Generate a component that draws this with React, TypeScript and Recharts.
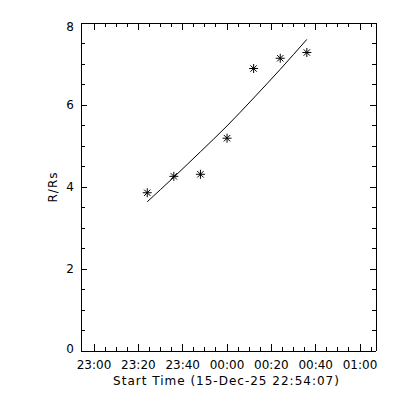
import React from "react";
import {
  ComposedChart,
  Line,
  Scatter,
  XAxis,
  YAxis,
  Label,
} from "recharts";

// observation times (UT) and measured heights
const TIMES = ["23:24", "23:36", "23:48", "00:00", "00:12", "00:24", "00:36"];
const HEIGHTS = [3.86, 4.26, 4.31, 5.19, 6.89, 7.14, 7.28];
// fitted curve, read at the same times
const FIT = [3.64, 4.24, 4.86, 5.49, 6.17, 6.87, 7.6];

const X_TICK_LABELS = ["23:00", "23:20", "23:40", "00:00", "00:20", "00:40", "01:00"];
const Y_TICK_LABELS = ["0", "2", "4", "6", "8"];
const START = "22:54:07";
const END = "01:07:12";
const X_TITLE = "Start Time (15-Dec-25 22:54:07)";
const Y_TITLE = "R/Rs";

const FONT = "DejaVu Sans";

// minutes after 23:00, wrapping past midnight
const toMin = (s: string) => {
  const [h, m, sec = "0"] = s.split(":");
  let hh = Number(h);
  if (hh < 12) hh += 24;
  return hh * 60 + Number(m) + Number(sec) / 60 - 23 * 60;
};

const rows = TIMES.map((t, i) => ({
  t: toMin(t),
  r: HEIGHTS[i],
  fit: FIT[i],
}));

const xMajor = X_TICK_LABELS.map(toMin);
const xTicks: number[] = [];
for (let m = 0; m <= 125; m += 5) xTicks.push(m);
const yMajor = Y_TICK_LABELS.map(Number);
const yTicks: number[] = [];
for (let v = 0; v <= 8; v += 0.5) yTicks.push(v);

const MAJOR = 7;
const MINOR = 4;

const XTick = ({ x, y, payload, side }: any) => {
  const idx = xMajor.indexOf(payload.value);
  const len = idx >= 0 ? MAJOR : MINOR;
  const dir = side === "bottom" ? -1 : 1;
  return (
    <g>
      <line
        x1={x}
        x2={x}
        y1={y}
        y2={y + dir * len}
        stroke="#000"
        shapeRendering="crispEdges"
      />
      {side === "bottom" && idx >= 0 && (
        <text
          x={x}
          y={y + 18}
          textAnchor="middle"
          fontFamily={FONT}
          fontSize={12}
          fill="#000"
        >
          {X_TICK_LABELS[idx]}
        </text>
      )}
    </g>
  );
};

const YTick = ({ x, y, payload, side }: any) => {
  const idx = yMajor.indexOf(payload.value);
  const len = idx >= 0 ? MAJOR - 1 : MINOR;
  const dir = side === "left" ? 1 : -1;
  // top label sits just below the frame, bottom one slightly raised
  const shift = idx === yMajor.length - 1 ? 4 : idx === 0 ? -2 : 0;
  return (
    <g>
      <line
        x1={x}
        x2={x + dir * len}
        y1={y}
        y2={y}
        stroke="#000"
        shapeRendering="crispEdges"
      />
      {side === "left" && idx >= 0 && (
        <text
          x={x - 7}
          y={y + 4 + shift}
          textAnchor="end"
          fontFamily={FONT}
          fontSize={12}
          fill="#000"
        >
          {Y_TICK_LABELS[idx]}
        </text>
      )}
    </g>
  );
};

const Star = ({ cx, cy }: any) => {
  const r = 4.5;
  const d = 3.2;
  return (
    <g stroke="#000" strokeWidth={1}>
      <line x1={cx - r} y1={cy} x2={cx + r} y2={cy} />
      <line x1={cx} y1={cy - r} x2={cx} y2={cy + r} />
      <line x1={cx - d} y1={cy - d} x2={cx + d} y2={cy + d} />
      <line x1={cx - d} y1={cy + d} x2={cx + d} y2={cy - d} />
    </g>
  );
};

const XTitle = ({ viewBox }: any) => (
  <text
    x={viewBox.x + viewBox.width / 2 - 2}
    y={viewBox.y + 34}
    textAnchor="middle"
    fontFamily={FONT}
    fontSize={12}
    letterSpacing={1}
    fill="#000"
  >
    {X_TITLE}
  </text>
);

const YTitle = ({ viewBox }: any) => {
  const x = viewBox.x + 16;
  const y = viewBox.y + viewBox.height / 2;
  return (
    <text
      x={x}
      y={y}
      transform={`rotate(-90, ${x}, ${y})`}
      textAnchor="middle"
      fontFamily={FONT}
      fontSize={12}
      letterSpacing={1}
      fill="#000"
    >
      {Y_TITLE}
    </text>
  );
};

const axisLine = { stroke: "#000", shapeRendering: "crispEdges" };

export default function App() {
  const xDomain = [toMin(START), toMin(END)];
  return (
    <div
      style={{
        position: "absolute",
        left: 0,
        top: 0,
        background: "#fff",
      }}
    >
      <ComposedChart
        width={400}
        height={400}
        data={rows}
        margin={{ top: 22, right: 23, bottom: 19, left: 41 }}
      >
        <XAxis
          xAxisId="b"
          dataKey="t"
          type="number"
          domain={xDomain}
          ticks={xTicks}
          interval={0}
          height={30}
          tickSize={0}
          tickMargin={0}
          axisLine={axisLine}
          tickLine={false}
          tick={(p: any) => <XTick {...p} side="bottom" />}
          allowDataOverflow
        >
          <Label content={XTitle} />
        </XAxis>
        <XAxis
          xAxisId="t"
          orientation="top"
          dataKey="t"
          type="number"
          domain={xDomain}
          ticks={xTicks}
          interval={0}
          height={1}
          tickSize={0}
          tickMargin={0}
          axisLine={axisLine}
          tickLine={false}
          tick={(p: any) => <XTick {...p} side="top" />}
          allowDataOverflow
        />
        <YAxis
          yAxisId="l"
          type="number"
          domain={[0, 8]}
          ticks={yTicks}
          interval={0}
          width={40}
          tickSize={0}
          tickMargin={0}
          axisLine={axisLine}
          tickLine={false}
          tick={(p: any) => <YTick {...p} side="left" />}
          allowDataOverflow
        >
          <Label content={YTitle} />
        </YAxis>
        <YAxis
          yAxisId="r"
          orientation="right"
          type="number"
          domain={[0, 8]}
          ticks={yTicks}
          interval={0}
          width={1}
          tickSize={0}
          tickMargin={0}
          axisLine={axisLine}
          tickLine={false}
          tick={(p: any) => <YTick {...p} side="right" />}
          allowDataOverflow
        />
        <Line
          xAxisId="b"
          yAxisId="l"
          dataKey="fit"
          type="monotone"
          stroke="#000"
          strokeWidth={1}
          dot={false}
          isAnimationActive={false}
        />
        <Scatter
          xAxisId="b"
          yAxisId="l"
          dataKey="r"
          shape={<Star />}
          isAnimationActive={false}
        />
      </ComposedChart>
    </div>
  );
}
